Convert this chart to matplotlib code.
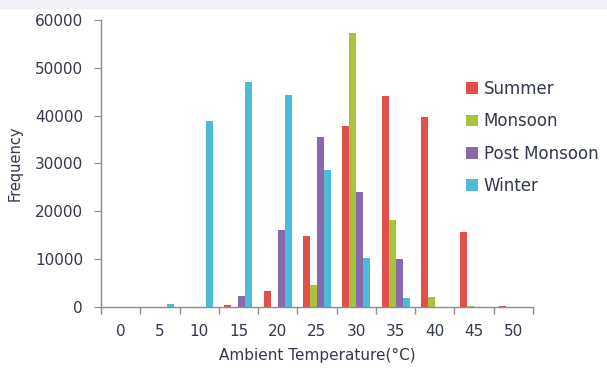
import matplotlib.pyplot as plt
import numpy as np
from matplotlib.patches import Rectangle

temps = [0, 5, 10, 15, 20, 25, 30, 35, 40, 45, 50]
summer = [0, 0, 0, 400, 3400, 14800, 37900, 44100, 39800, 15600, 300]
monsoon = [0, 0, 0, 0, 0, 4600, 57200, 18200, 2150, 300, 0]
post_monsoon = [0, 0, 0, 2300, 16000, 35500, 24100, 10000, 0, 0, 0]
winter = [0, 700, 38900, 47000, 44300, 28600, 10300, 1900, 0, 0, 0]

series = [
    ("Summer", summer, "#E2504C"),
    ("Monsoon", monsoon, "#A8C43E"),
    ("Post Monsoon", post_monsoon, "#8A68AE"),
    ("Winter", winter, "#4DBCD6"),
]

text_col = "#33384a"
axis_col = "#8c8c8c"

fig = plt.figure(figsize=(6.07, 3.68), dpi=100)
# faint band along the top edge of the scanned figure
fig.patches.append(Rectangle((0, 1 - 8 / 368), 1, 8 / 368, transform=fig.transFigure,
                             color="#eef0f5", zorder=0))
ax = fig.add_axes([101 / 607, 1 - 307 / 368, 432 / 607, 287 / 368])

x = np.arange(len(temps))
w = 0.178
for i, (name, vals, col) in enumerate(series):
    ax.bar(x + (i - 1.5) * w, vals, width=w, color=col, label=name)

ax.set_xlim(-0.5, len(temps) - 0.5)
ax.set_ylim(0, 60000)
ax.set_yticks(range(0, 60001, 10000))
ax.set_xticks(x)
ax.set_xticklabels([str(t) for t in temps])
ax.set_xticks(np.arange(-0.5, len(temps)), minor=True)
ax.tick_params(axis="x", which="major", length=0, pad=12, labelsize=11, labelcolor=text_col)
ax.tick_params(axis="x", which="minor", length=5, color=axis_col, width=1)
ax.tick_params(axis="y", length=5, color=axis_col, labelsize=11, labelcolor=text_col, pad=8)

for s in ["top", "right"]:
    ax.spines[s].set_visible(False)
for s in ["left", "bottom"]:
    ax.spines[s].set_color(axis_col)
    ax.spines[s].set_linewidth(1)

ax.set_ylabel("Frequency", fontsize=10.5, color=text_col, labelpad=9)
ax.set_xlabel("Ambient Temperature(°C)", fontsize=11, color=text_col, labelpad=7)

fig.legend(loc="upper left", bbox_to_anchor=(466 / 607, 1 - 80 / 368),
           frameon=False, fontsize=12, handlelength=0.7, handleheight=0.7,
           handletextpad=0.35, labelspacing=0.86, borderpad=0, borderaxespad=0,
           labelcolor=text_col)

fig.savefig("out.png", dpi=100)
